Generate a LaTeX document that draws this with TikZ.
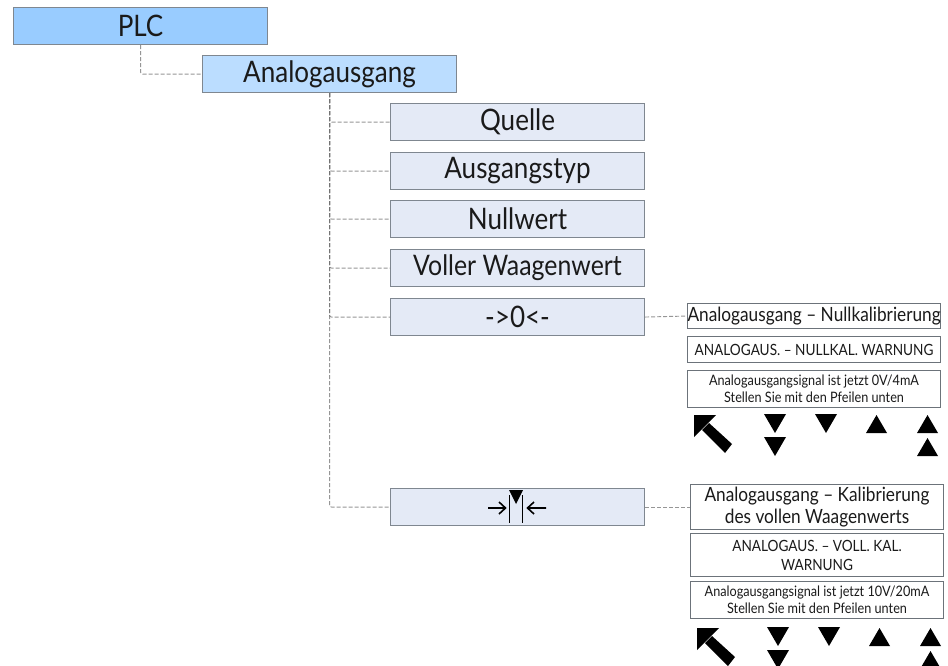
\documentclass[tikz,border=0pt]{standalone}
\usepackage{fontspec}
\setmainfont[FakeStretch=0.88]{Lato}
\definecolor{plcblue}{HTML}{99CCFF}
\definecolor{anablue}{HTML}{BBDDFF}
\definecolor{itemblue}{HTML}{E4EAF6}
\definecolor{boxline}{HTML}{7F8790}
\definecolor{txt}{HTML}{1A1A1A}
\tikzset{
  x=0.75pt,y=-0.75pt,
  box/.style={draw=boxline,line width=0.8pt,inner sep=0pt,align=center,text=txt,anchor=north west},
  big/.style={box,minimum width=190.5pt,minimum height=27.75pt,font=\fontsize{22.2}{26}\selectfont},
  info/.style={box,draw=boxline!85!black,minimum width=189.75pt,font=\fontsize{14.7}{16.5}\selectfont},
  warn/.style={info,font=\fontsize{11.6}{14.3}\selectfont},
  note/.style={info,font=\fontsize{10.8}{13}\selectfont},
  link/.style={draw=black!55,line width=0.7pt,dashed,dash pattern=on 3pt off 1.5pt,rounded corners=1.5pt,draw opacity=0.75},
  tri/.style={fill=black,draw=none},
}
\newcommand{\keyrow}{%
  \fill[tri] (0,0) -- (22,0) -- (0,22) -- cycle;
  \fill[tri] (15,8) -- (38,29) -- (31,38) -- (8,15) -- cycle;
  \fill[tri] (70,-1) -- (92,-1) -- (81,18) -- cycle;
  \fill[tri] (70,22) -- (92,22) -- (81,41) -- cycle;
  \fill[tri] (121,-1) -- (143,-1) -- (132,18) -- cycle;
  \fill[tri] (172,18) -- (193,18) -- (182.5,0) -- cycle;
  \fill[tri] (223,18) -- (244,18) -- (233.5,0) -- cycle;
  \fill[tri] (223,41) -- (244,41) -- (233.5,23) -- cycle;
}
\begin{document}
\begin{tikzpicture}
\clip (0,0) rectangle (948,665);
\useasboundingbox (0,0) rectangle (948,665);
\fill[white] (0,0) rectangle (948,665);

\node[big,fill=plcblue] (plc) at (13,7) {PLC};
\node[big,fill=anablue] (ana) at (202,55) {Analogausgang};
\node[big,fill=itemblue] (quelle) at (390,103) {Quelle};
\node[big,fill=itemblue] (typ) at (390,152) {Ausgangstyp};
\node[big,fill=itemblue] (null) at (390,200) {Nullwert};
\node[big,fill=itemblue,font=\fontsize{21.2}{26}\selectfont] (voll) at (390,249) {Voller Waagenwert};
\node[big,fill=itemblue] (zero) at (390,298) {->0<-};
\node[big,fill=itemblue] (span) at (390,488) {};

% span key symbol
\draw[line width=1.3pt,black] (509.5,495) -- (509.5,523) (522.5,495) -- (522.5,523);
\fill[black] (509,490) -- (523,490) -- (516,504) -- cycle;
\draw[line width=1.2pt,black] (488,508) -- (505,508) (499,502) -- (505.5,508) -- (499,514);
\draw[line width=1.2pt,black] (546,508) -- (528,508) (534,502) -- (527.5,508) -- (534,514);

\node[info,minimum height=18.75pt] (za) at (687,303) {Analogausgang – Nullkalibrierung};
\node[warn,minimum height=19.5pt] (zb) at (687,336) {ANALOGAUS. – NULLKAL. WARNUNG};
\node[note,minimum height=27.75pt] (zc) at (687,370) {Analogausgangsignal ist jetzt 0V/4mA\\Stellen Sie mit den Pfeilen unten};

\node[info,minimum height=33.75pt] (sa) at (690,484) {Analogausgang – Kalibrierung\\des vollen Waagenwerts};
\node[warn,minimum height=32.25pt] (sb) at (690,533) {ANALOGAUS. – VOLL. KAL.\\WARNUNG};
\node[note,minimum height=27.75pt] (sc) at (690,581) {Analogausgangsignal ist jetzt 10V/20mA\\Stellen Sie mit den Pfeilen unten};

\begin{scope}[shift={(694,415)}]\keyrow\end{scope}
\begin{scope}[shift={(697,628)}]\keyrow\end{scope}

\draw[link] (plc.south) |- (ana.west);
\foreach \t in {quelle,typ,null,voll,zero,span}{
  \draw[link] (ana.south) |- (\t.west);
}
\draw[link] (zero.east) -- (za.west);
\draw[link] (span.east) -- (sa.west);
\end{tikzpicture}
\end{document}
